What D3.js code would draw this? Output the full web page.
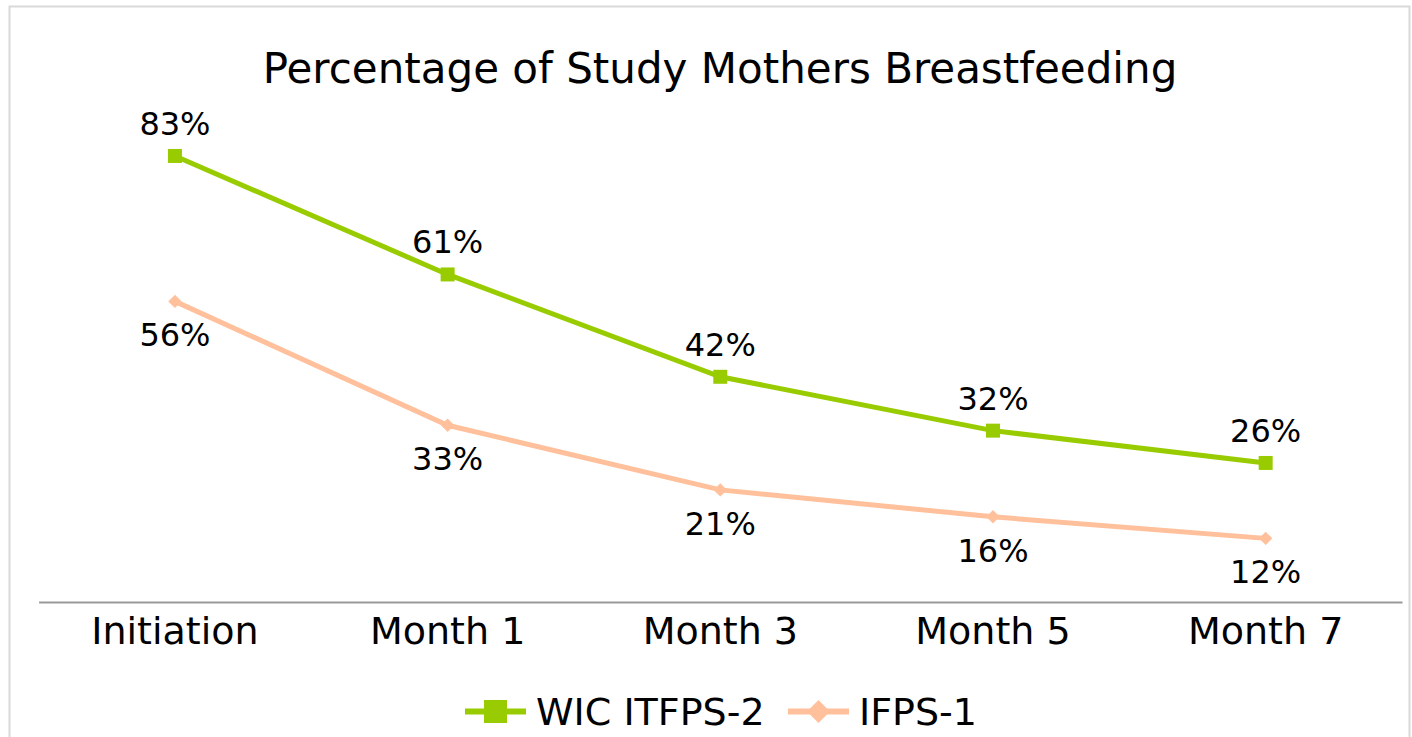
<!DOCTYPE html>
<html>
<head>
<meta charset="utf-8">
<script src="https://cdn.jsdelivr.net/npm/d3@7"></script>
<style>
body { margin: 0; background: #fff; }
text { font-family: "DejaVu Sans", sans-serif; fill: #000; }
</style>
</head>
<body>
<script>
var categories = ["Initiation", "Month 1", "Month 3", "Month 5", "Month 7"];
var wicValues = [83, 61, 42, 32, 26];
var ifpsValues = [56, 33, 21, 16, 12];
var seriesNames = ["WIC ITFPS-2", "IFPS-1"];

var svgWidth = 1412;
var svgHeight = 737;

var svg = d3.select("body")
    .append("svg")
    .attr("width", svgWidth)
    .attr("height", svgHeight);

// chart frame
svg.append("rect")
    .attr("x", 9.5)
    .attr("y", 6.5)
    .attr("width", 1400)
    .attr("height", 800)
    .attr("fill", "#fff")
    .attr("stroke", "#d9d9d9")
    .attr("stroke-width", 2);

svg.append("text")
    .attr("x", 720)
    .attr("y", 83)
    .attr("text-anchor", "middle")
    .style("font-size", "42px")
    .text("Percentage of Study Mothers Breastfeeding");

var xScale = d3.scaleBand()
    .domain(categories)
    .range([38.6, 1402]);

var yScale = d3.scaleLinear()
    .domain([0, 100])
    .range([603, 64.4]);

var xPos = d => xScale(d) + xScale.bandwidth() / 2;

var bottomAxis = d3.axisBottom(xScale).tickSize(0).tickPadding(15);

var axisG = svg.append("g")
    .attr("transform", "translate(0, 602)")
    .call(bottomAxis);
axisG.select(".domain").attr("stroke", "#999").attr("stroke-width", 2);
axisG.selectAll("text")
    .style("font-size", "38px")
    .style("font-family", "DejaVu Sans");

var series = [
    { name: seriesNames[0], values: wicValues, color: "#99cc00", size: 196, rot: 0, legendSize: 529, above: true },
    { name: seriesNames[1], values: ifpsValues, color: "#ffc09b", size: 90, rot: 45, legendSize: 265, above: false }
];

var line = d3.line()
    .x((d, i) => xPos(categories[i]))
    .y(d => yScale(d));

series.forEach(function(s) {
    svg.append("path")
        .attr("d", line(s.values))
        .attr("fill", "none")
        .attr("stroke", s.color)
        .attr("stroke-width", 5);

    svg.selectAll(null)
        .data(s.values)
        .enter()
        .append("path")
        .attr("d", d3.symbol().type(d3.symbolSquare).size(s.size))
        .attr("transform", (d, i) => `translate(${xPos(categories[i])}, ${yScale(d)}) rotate(${s.rot})`)
        .attr("fill", s.color);

    svg.selectAll(null)
        .data(s.values)
        .enter()
        .append("text")
        .attr("x", (d, i) => xPos(categories[i]))
        .attr("y", d => yScale(d) + (s.above ? -21 : 45))
        .attr("text-anchor", "middle")
        .style("font-size", "32px")
        .text(d => d + "%");
});

// legend
var legendX = [465, 788];
series.forEach(function(s, i) {
    var g = svg.append("g").attr("transform", `translate(${legendX[i]}, 711.5)`);
    g.append("line")
        .attr("x1", 0).attr("x2", 61)
        .attr("stroke", s.color)
        .attr("stroke-width", 6);
    g.append("path")
        .attr("d", d3.symbol().type(d3.symbolSquare).size(s.legendSize))
        .attr("transform", `translate(30.5, 0) rotate(${s.rot})`)
        .attr("fill", s.color);
    g.append("text")
        .attr("x", 71)
        .attr("y", 13.5)
        .style("font-size", "38px")
        .text(s.name);
});
</script>
</body>
</html>
